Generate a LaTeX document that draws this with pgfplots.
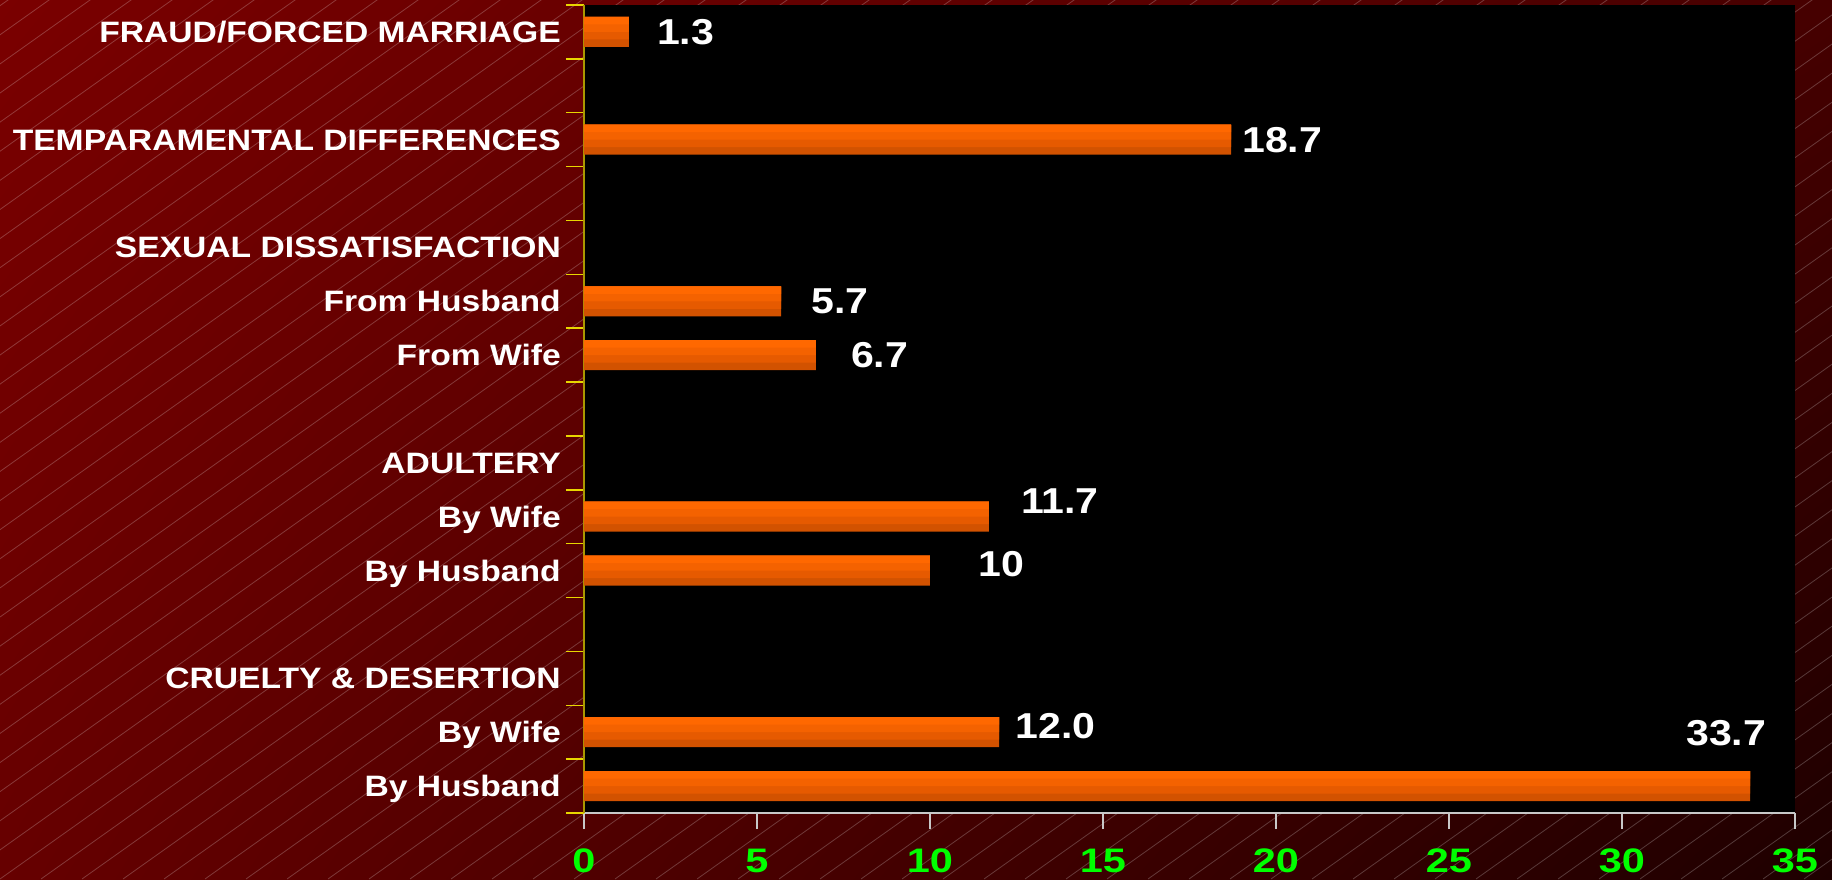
\documentclass[border=0pt]{standalone}
\usepackage{fontspec}
\setmainfont{Liberation Sans}[FakeStretch=1.14]
\newfontfamily\tickfont{Liberation Sans}[FakeStretch=1.22]
\usepackage{pgfplots}
\pgfplotsset{compat=1.18}
\usepackage{pgfplotstable}
\usetikzlibrary{shadings}

\definecolor{bgUL}{RGB}{122,0,0}
\definecolor{bgUR}{RGB}{70,0,0}
\definecolor{bgLL}{RGB}{102,0,0}
\definecolor{bgLR}{RGB}{30,0,0}
\definecolor{barA}{RGB}{255,104,0}
\definecolor{barB}{RGB}{244,98,0}
\definecolor{barC}{RGB}{230,90,0}
\definecolor{barD}{RGB}{210,82,0}
\definecolor{yaxisc}{RGB}{170,152,0}
\definecolor{ytickc}{RGB}{232,214,0}
\definecolor{xaxisc}{RGB}{200,200,200}
\definecolor{ticknum}{RGB}{0,255,0}

% category position (0 = bottom), value, label text, label offsets in pt
\pgfplotstableread{
pos val lab dx dy
14 1.3 1.3 28 0
12 18.7 18.7 11 0
9 5.7 5.7 30 0
8 6.7 6.7 35 0
5 11.7 11.7 32 16
4 10 10 48 6
1 12.0 12.0 16 6
0 33.7 33.7 -64 53
}\causes

\begin{document}
\begin{tikzpicture}
\shade[upper left=bgUL, upper right=bgUR, lower left=bgLL, lower right=bgLR]
  (0,0) rectangle (1832pt,879pt);
\begin{scope}
  \clip (0,0) rectangle (1832pt,879pt);
  \foreach \i in {-31,...,45} {
    \draw[white, opacity=0.22, line width=0.8pt] (\i*41pt,0) -- ++(1400pt,994pt);
  }
\end{scope}
\path[use as bounding box] (0,0) rectangle (1832pt,879pt);

\begin{axis}[
  at={(584pt,66pt)}, anchor=south west,
  scale only axis, width=1211pt, height=808pt,
  xbar,
  xmin=0, xmax=35, ymin=-0.5, ymax=14.5,
  clip=false,
  axis background/.style={fill=black},
  axis x line*=bottom, axis y line*=left,
  x axis line style={draw=xaxisc, line width=1.5pt, -},
  y axis line style={draw=yaxisc, line width=1.5pt, -},
  tick align=outside,
  major tick length=16pt, minor tick length=18pt,
  xtick={0,5,...,35},
  major x tick style={draw=xaxisc, line width=1.5pt},
  ytick={0,1,2,4,5,6,8,9,10,12,14},
  yticklabels={By Husband, By Wife, {CRUELTY \& DESERTION},
    By Husband, By Wife, ADULTERY,
    From Wife, From Husband, SEXUAL DISSATISFACTION,
    TEMPARAMENTAL DIFFERENCES, FRAUD/FORCED MARRIAGE},
  minor ytick={-0.5,0.5,...,14.5},
  major y tick style={draw=none},
  minor y tick style={draw=ytickc, line width=1.5pt},
  /pgf/number format/assume math mode=true,
  xticklabel style={inner sep=0pt, yshift=-20pt, text=ticknum,
    font=\tickfont\fontsize{34pt}{34pt}\selectfont\bfseries},
  yticklabel style={inner sep=0pt, anchor=base east, xshift=-7pt, yshift=-10.6pt,
    text=white, font=\fontsize{29.5pt}{30pt}\selectfont\bfseries},
]
% banded bars: darkest full width, lighter bands stacked towards the top
\addplot[draw=none, fill=barD, bar width=30pt, bar shift=0pt,
  point meta=explicit symbolic,
  nodes near coords,
  visualization depends on={\thisrow{dx}\as\dx},
  visualization depends on={\thisrow{dy}\as\dy},
  every node near coord/.append style={anchor=west, inner sep=0pt,
    xshift=\dx pt, yshift=\dy pt, text=white,
    font=\fontsize{36pt}{36pt}\selectfont\bfseries},
] table[x=val, y=pos, meta=lab] {\causes};
\addplot[draw=none, fill=barC, bar width=22.5pt, bar shift=3.75pt]
  table[x=val, y=pos] {\causes};
\addplot[draw=none, fill=barB, bar width=15pt, bar shift=7.5pt]
  table[x=val, y=pos] {\causes};
\addplot[draw=none, fill=barA, bar width=7.5pt, bar shift=11.25pt]
  table[x=val, y=pos] {\causes};
\end{axis}
\end{tikzpicture}
\end{document}
